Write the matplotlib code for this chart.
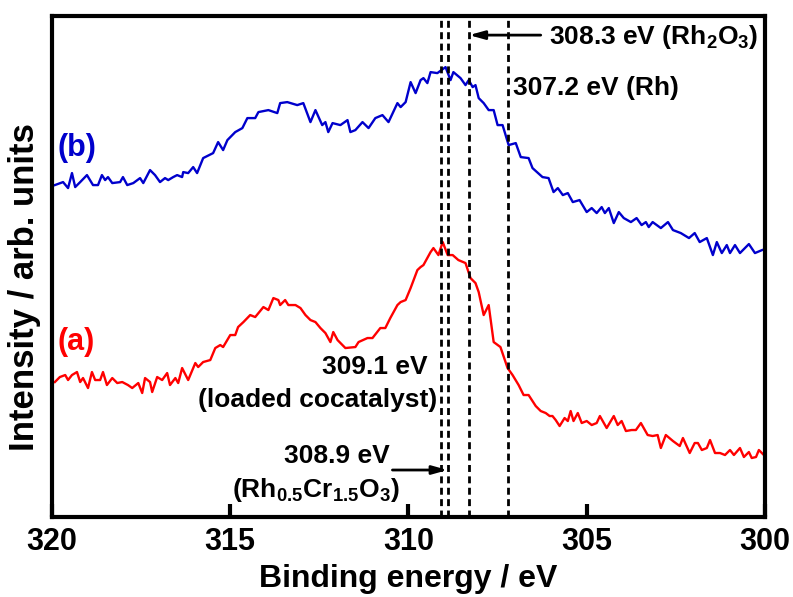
import matplotlib
matplotlib.use('Agg')
import matplotlib.pyplot as plt

# binding energy (eV) and intensity (arb. units)
blue_be = [319.92, 319.69, 319.55, 319.44, 319.35, 319.21, 319.02, 318.85, 318.71, 318.60,
           318.51, 318.43, 318.31, 318.09, 318.01, 317.89, 317.72, 317.53, 317.44, 317.25,
           317.11, 316.97, 316.83, 316.74, 316.60, 316.49, 316.35, 316.32, 316.18, 316.04,
           315.93, 315.76, 315.48, 315.34, 315.20, 315.08, 314.86, 314.66, 314.52, 314.30,
           314.21, 313.93, 313.68, 313.60, 313.40, 313.12, 312.95, 312.75, 312.61, 312.42,
           312.33, 312.25, 312.13, 311.91, 311.71, 311.63, 311.49, 311.29, 311.12, 310.93,
           310.73, 310.56, 310.31, 310.22, 310.08, 309.94, 309.80, 309.66, 309.58, 309.47,
           309.38, 309.19, 308.96, 308.82, 308.74, 308.54, 308.40, 308.31, 308.20, 308.12,
           308.03, 307.89, 307.75, 307.61, 307.50, 307.36, 307.19, 306.99, 306.85, 306.63,
           306.52, 306.24, 306.07, 305.93, 305.81, 305.67, 305.53, 305.39, 305.20, 305.00,
           304.86, 304.72, 304.58, 304.49, 304.38, 304.24, 304.10, 303.96, 303.76, 303.60,
           303.46, 303.34, 303.26, 303.15, 302.92, 302.72, 302.58, 302.36, 302.13, 301.97,
           301.83, 301.63, 301.46, 301.35, 301.21, 301.07, 300.98, 300.84, 300.70, 300.45,
           300.28, 300.08]
blue_int = [330, 333, 327, 342, 328, 333, 340, 330, 330, 340,
            335, 338, 332, 333, 338, 330, 332, 337, 332, 345,
            340, 333, 337, 335, 338, 340, 338, 343, 342, 348,
            342, 357, 362, 373, 365, 375, 383, 387, 397, 397,
            403, 405, 402, 412, 413, 410, 412, 393, 405, 390,
            393, 383, 392, 390, 395, 383, 385, 393, 387, 397,
            400, 393, 412, 408, 413, 433, 422, 435, 437, 432,
            443, 442, 448, 435, 443, 437, 430, 435, 428, 430,
            417, 412, 405, 405, 390, 390, 370, 372, 358, 357,
            347, 338, 337, 323, 327, 320, 322, 313, 315, 303,
            307, 302, 308, 302, 307, 292, 303, 297, 293, 297,
            290, 293, 288, 293, 287, 293, 285, 282, 277, 282,
            273, 277, 260, 273, 262, 270, 262, 270, 262, 271,
            262, 265]

red_be = [319.92, 319.78, 319.63, 319.55, 319.44, 319.30, 319.21, 319.13, 318.99, 318.88,
          318.79, 318.65, 318.57, 318.46, 318.31, 318.17, 318.03, 317.87, 317.75, 317.58,
          317.47, 317.39, 317.25, 317.19, 317.05, 316.91, 316.77, 316.69, 316.54, 316.46,
          316.35, 316.18, 315.98, 315.90, 315.76, 315.56, 315.42, 315.28, 315.20, 315.00,
          314.86, 314.78, 314.63, 314.44, 314.30, 314.07, 313.93, 313.79, 313.65, 313.60,
          313.46, 313.37, 313.17, 313.03, 312.89, 312.75, 312.61, 312.47, 312.33, 312.19,
          312.11, 311.99, 311.77, 311.49, 311.40, 311.15, 311.01, 310.79, 310.65, 310.51,
          310.31, 310.22, 310.08, 309.94, 309.75, 309.66, 309.58, 309.38, 309.30, 309.16,
          309.04, 308.90, 308.76, 308.60, 308.40, 308.26, 308.12, 308.03, 307.89, 307.75,
          307.61, 307.42, 307.22, 307.08, 306.91, 306.77, 306.63, 306.43, 306.29, 306.15,
          306.04, 305.96, 305.87, 305.76, 305.62, 305.53, 305.45, 305.37, 305.25, 305.14,
          305.00, 304.86, 304.72, 304.63, 304.44, 304.24, 304.13, 304.02, 303.90, 303.74,
          303.62, 303.48, 303.29, 303.15, 303.01, 302.92, 302.78, 302.58, 302.39, 302.30,
          302.11, 301.97, 301.88, 301.77, 301.63, 301.54, 301.40, 301.26, 301.12, 300.98,
          300.87, 300.70, 300.59, 300.45, 300.37, 300.25, 300.17, 300.03]
red_int = [133, 138, 140, 135, 140, 143, 133, 137, 127, 143,
           135, 135, 143, 130, 137, 132, 133, 130, 127, 132,
           122, 137, 133, 123, 138, 135, 142, 130, 137, 132,
           147, 135, 152, 148, 153, 155, 167, 170, 168, 180,
           180, 188, 193, 200, 198, 208, 205, 217, 215, 210,
           215, 210, 210, 207, 200, 195, 193, 187, 182, 173,
           183, 175, 167, 168, 173, 177, 177, 187, 187, 197,
           210, 213, 215, 227, 245, 248, 250, 263, 267, 260,
           273, 260, 260, 255, 252, 237, 232, 223, 200, 210,
           173, 168, 147, 140, 130, 120, 120, 109, 104, 102,
           99, 99, 95, 89, 97, 94, 104, 94, 102, 92,
           94, 90, 92, 99, 87, 99, 90, 94, 84, 85,
           85, 92, 80, 79, 80, 67, 80, 74, 69, 77,
           62, 72, 72, 65, 67, 75, 62, 62, 60, 65,
           60, 67, 58, 63, 57, 58, 65, 60]

ref_lines = [309.1, 308.9, 308.3, 307.2]
xticks = [320, 315, 310, 305, 300]

plt.rcParams['font.family'] = ['Liberation Sans', 'DejaVu Sans']
plt.rcParams['font.weight'] = 'bold'
plt.rcParams['mathtext.fontset'] = 'custom'
plt.rcParams['mathtext.bf'] = 'Liberation Sans:bold'
plt.rcParams['mathtext.rm'] = 'Liberation Sans:bold'
plt.rcParams['mathtext.default'] = 'bf'

fig = plt.figure(figsize=(7.93, 5.97), dpi=100)
ax = fig.add_axes([0.0656, 0.134, 0.899, 0.839])

ax.plot(blue_be, blue_int, color='#0000cc', lw=1.7)
ax.plot(red_be, red_int, color='#ff0000', lw=1.7)
for e in ref_lines:
    ax.axvline(e, color='black', lw=2.0, dashes=(2.5, 1.6))

ax.set_xlim(320, 300)
ax.set_ylim(-2, 499)
ax.set_xticks(xticks)
ax.set_xticklabels([str(t) for t in xticks])
ax.set_yticks([])
ax.tick_params(axis='x', direction='in', length=9.5, width=3, pad=7, labelsize=22)
for sp in ax.spines.values():
    sp.set_linewidth(3)

ax.set_xlabel('Binding energy / eV', fontsize=23, fontweight='bold', labelpad=5)
ax.set_ylabel('Intensity / arb. units', fontsize=25, fontweight='bold')
ax.yaxis.set_label_coords(-0.016, 0.459)

ax.text(319.86, 367, '(b)', color='#0000cc', fontsize=22, fontweight='bold', va='center')
ax.text(319.86, 173, '(a)', color='#ff0000', fontsize=22, fontweight='bold', va='center')

fs = 19
ax.text(309.47, 148, '309.1 eV', fontsize=fs, fontweight='bold', ha='right', va='center')
ax.text(309.19, 115, '(loaded cocatalyst)', fontsize=fs, fontweight='bold', ha='right', va='center')
ax.text(307.08, 427, '307.2 eV (Rh)', fontsize=fs, fontweight='bold', ha='left', va='center')

arrow = dict(arrowstyle='-|>,head_length=0.9,head_width=0.25', color='black', lw=2,
             shrinkA=0, shrinkB=0)
ax.annotate('', xy=(308.3, 480), xytext=(306.29, 480), arrowprops=arrow)
ax.text(306.07, 478, r'308.3 eV (Rh$_{2}$O$_{3}$)', fontsize=fs, fontweight='bold', ha='left', va='center')

ax.annotate('', xy=(308.9, 45), xytext=(310.45, 45), arrowprops=arrow)
ax.text(312.0, 59, '308.9 eV', fontsize=fs, fontweight='bold', ha='center', va='center')
ax.text(312.6, 25, r'(Rh$_{0.5}$Cr$_{1.5}$O$_{3}$)', fontsize=fs, fontweight='bold', ha='center', va='center')

fig.savefig('out.png', dpi=100)
